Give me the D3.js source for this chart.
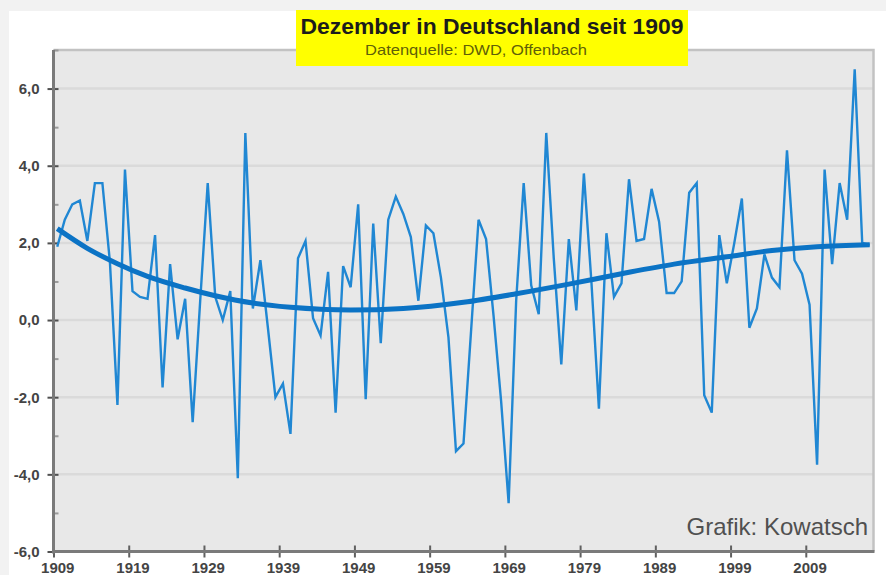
<!DOCTYPE html>
<html>
<head>
<meta charset="utf-8">
<script src="https://cdn.jsdelivr.net/npm/d3@7"></script>
<style>
  html, body { margin: 0; padding: 0; background: #f2f2f2; }
  svg { display: block; }
</style>
</head>
<body>
<div id="chart"></div>
<script>
// Dezember-Mittel Deutschland [°C], 1909 .. 2017
const firstYear = 1909;
const lastYear = 2017;
const values = [
  1.9, 2.6, 3.0, 3.1, 2.05, 3.55, 3.55, 1.5, -2.2, 3.9,          // 1909-1918
  0.75, 0.6, 0.55, 2.2, -1.75, 1.45, -0.5, 0.55, -2.65, 0.5,     // 1919-1928
  3.55, 0.6, 0.0, 0.75, -4.1, 4.85, 0.3, 1.55, -0.2, -2.0,       // 1929-1938
  -1.65, -2.95, 1.6, 2.05, 0.05, -0.4, 1.25, -2.4, 1.4, 0.85,    // 1939-1948
  3.0, -2.05, 2.5, -0.6, 2.6, 3.2, 2.75, 2.15, 0.5, 2.45,        // 1949-1958
  2.25, 1.1, -0.45, -3.4, -3.2, -0.3, 2.6, 2.1, 0.1, -2.1,       // 1959-1968
  -4.75, 0.5, 3.55, 0.9, 0.15, 4.85, 1.6, -1.15, 2.1, 0.25,      // 1969-1978
  3.8, 1.0, -2.3, 2.25, 0.6, 0.95, 3.65, 2.05, 2.1, 3.4,         // 1979-1988
  2.55, 0.7, 0.7, 1.0, 3.3, 3.55, -1.95, -2.4, 2.2, 0.95,        // 1989-1998
  2.0, 3.15, -0.2, 0.3, 1.7, 1.1, 0.85, 4.4, 1.55, 1.2,          // 1999-2008
  0.4, -3.75, 3.9, 1.45, 3.55, 2.6, 6.5, 2.0, 1.95               // 2009-2017
];
const years = d3.range(firstYear, lastYear + 1);

// polynomial trend as drawn in the picture (read at a few years)
const trendYears  = [1909, 1913, 1917, 1921, 1926, 1930, 1935, 1940, 1948, 1955,
                     1963, 1970, 1977, 1984, 1991, 1998, 2004, 2010, 2017];
const trendValues = [2.37, 1.86, 1.46, 1.13, 0.83, 0.63, 0.44, 0.33, 0.26, 0.30,
                     0.46, 0.68, 0.93, 1.20, 1.45, 1.64, 1.80, 1.90, 1.95];

const labelYears = [1909, 1919, 1929, 1939, 1949, 1959, 1969, 1979, 1989, 1999, 2009];
const majorTicks = [-6, -4, -2, 0, 2, 4, 6];
const minorTicks = [-5, -3, -1, 1, 3, 5, 7];

const title = "Dezember in Deutschland seit 1909";
const subtitle = "Datenquelle: DWD, Offenbach";
const credit = "Grafik: Kowatsch";

const width = 886, height = 575;
const plot = { left: 53.5, right: 873.5, top: 50, bottom: 551.5 };

const de = d3.formatLocale({ decimal: ",", thousands: ".", grouping: [3], currency: ["", " €"], minus: "-" });
const fmt = de.format(".1f");

const svg = d3.select("#chart").append("svg")
    .attr("width", width)
    .attr("height", height);

// background
svg.append("rect").attr("width", width).attr("height", height).attr("fill", "#f2f2f2");
svg.append("rect").attr("x", 9).attr("y", 11).attr("width", width).attr("height", height).attr("fill", "#ffffff");

const x = d3.scaleLinear().domain([firstYear - 0.5, lastYear + 0.5]).range([plot.left, plot.right]);
const y = d3.scaleLinear().domain([-6, 7]).range([plot.bottom, plot.top]);

// plot area
svg.append("rect")
    .attr("x", plot.left).attr("y", plot.top)
    .attr("width", plot.right - plot.left).attr("height", plot.bottom - plot.top)
    .attr("fill", "#e8e8e8");

// gridlines
svg.append("g").selectAll("line")
    .data(majorTicks.filter(d => d > -6))
    .enter().append("line")
    .attr("x1", plot.left).attr("x2", plot.right)
    .attr("y1", d => y(d)).attr("y2", d => y(d))
    .attr("stroke", "#dadada").attr("stroke-width", 2.5);

// top and right frame
svg.append("path")
    .attr("d", `M${plot.left},${plot.top}H${plot.right}V${plot.bottom}`)
    .attr("fill", "none").attr("stroke", "#c2c2c2").attr("stroke-width", 2.5);

// y axis
const yAxis = svg.append("g")
    .attr("transform", `translate(${plot.left},0)`)
    .call(d3.axisLeft(y).tickValues(majorTicks).tickFormat(fmt).tickSize(6).tickPadding(8));
yAxis.select(".domain").remove();
yAxis.selectAll(".tick line").attr("x1", 5).attr("x2", -6).attr("stroke", "#505050").attr("stroke-width", 2);
yAxis.selectAll(".tick text")
    .attr("fill", "#444").attr("font-size", 15).attr("font-weight", "bold")
    .attr("font-family", "Liberation Sans, Arial, sans-serif");

const yMinor = svg.append("g")
    .attr("transform", `translate(${plot.left},0)`)
    .call(d3.axisRight(y).tickValues(minorTicks).tickFormat("").tickSize(5));
yMinor.select(".domain").remove();
yMinor.selectAll(".tick line").attr("stroke", "#9a9a9a").attr("stroke-width", 2);

// x axis: tick marks between categories, labels under the year
const xTicks = svg.append("g")
    .attr("transform", `translate(0,${plot.bottom})`)
    .call(d3.axisBottom(x).tickValues(labelYears.map(d => d - 0.5)).tickFormat("").tickSize(6));
xTicks.select(".domain").remove();
xTicks.selectAll(".tick line").attr("y1", -6).attr("y2", 6).attr("stroke", "#606060").attr("stroke-width", 2);

const xLabels = svg.append("g")
    .attr("transform", `translate(0,${plot.bottom})`)
    .call(d3.axisBottom(x).tickValues(labelYears).tickFormat(d3.format("d")).tickSize(0).tickPadding(0));
xLabels.select(".domain").remove();
xLabels.selectAll(".tick text")
    .attr("dy", null).attr("y", 21.5)
    .attr("fill", "#444").attr("font-size", 15).attr("font-weight", "bold")
    .attr("font-family", "Liberation Sans, Arial, sans-serif");

// axis lines
svg.append("line")
    .attr("x1", plot.left).attr("x2", plot.left)
    .attr("y1", plot.top).attr("y2", plot.bottom + 2)
    .attr("stroke", "#7a7a7a").attr("stroke-width", 3);
svg.append("line")
    .attr("x1", plot.left).attr("x2", plot.right + 1)
    .attr("y1", plot.bottom).attr("y2", plot.bottom)
    .attr("stroke", "#7a7a7a").attr("stroke-width", 3);

// data line
const line = d3.line()
    .x((d, i) => x(years[i]))
    .y(d => y(d));
svg.append("path")
    .datum(values)
    .attr("d", line)
    .attr("fill", "none")
    .attr("stroke", "#2087d3")
    .attr("stroke-width", 2.4)
    .attr("stroke-linejoin", "miter");

// trend line
const trendLine = d3.line()
    .x((d, i) => x(trendYears[i]))
    .y(d => y(d))
    .curve(d3.curveMonotoneX);
svg.append("path")
    .datum(trendValues)
    .attr("d", trendLine)
    .attr("fill", "none")
    .attr("stroke", "#0b73c5")
    .attr("stroke-width", 5);

// title box
svg.append("rect")
    .attr("x", 296).attr("y", 10).attr("width", 392).attr("height", 56)
    .attr("fill", "#ffff00");
svg.append("text")
    .attr("x", 492).attr("y", 34)
    .attr("text-anchor", "middle")
    .attr("font-family", "Liberation Sans, Arial, sans-serif")
    .attr("font-size", 22).attr("font-weight", "bold")
    .attr("fill", "#1c1c1c")
    .attr("textLength", 383).attr("lengthAdjust", "spacingAndGlyphs")
    .text(title);
svg.append("text")
    .attr("x", 476).attr("y", 55)
    .attr("text-anchor", "middle")
    .attr("font-family", "Liberation Sans, Arial, sans-serif")
    .attr("font-size", 15)
    .attr("fill", "#5f5f08")
    .attr("textLength", 222).attr("lengthAdjust", "spacingAndGlyphs")
    .text(subtitle);

// credit
svg.append("text")
    .attr("x", 868).attr("y", 535)
    .attr("text-anchor", "end")
    .attr("font-family", "Liberation Sans, Arial, sans-serif")
    .attr("font-size", 24)
    .attr("fill", "#505050")
    .text(credit);
</script>
</body>
</html>
